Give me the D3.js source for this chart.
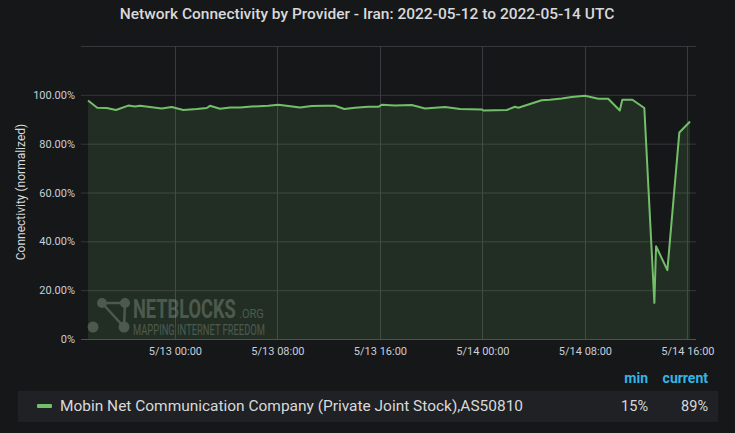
<!DOCTYPE html>
<html>
<head>
<meta charset="utf-8">
<script src="https://cdn.jsdelivr.net/npm/d3@7"></script>
<style>
  body { margin: 0; background: #161719; }
  svg { display: block; font-family: Roboto, "Noto Sans", sans-serif; }
</style>
</head>
<body>
<script>
// chart data
var times = [
  "2022-05-12T17:13", "2022-05-12T17:56", "2022-05-12T18:40", "2022-05-12T19:24",
  "2022-05-12T20:21", "2022-05-12T20:53", "2022-05-12T21:16", "2022-05-12T22:03",
  "2022-05-12T22:58", "2022-05-12T23:45", "2022-05-13T00:39", "2022-05-13T01:42",
  "2022-05-13T02:29", "2022-05-13T02:44", "2022-05-13T03:31", "2022-05-13T04:18",
  "2022-05-13T05:05", "2022-05-13T05:59", "2022-05-13T07:17", "2022-05-13T08:04",
  "2022-05-13T08:51", "2022-05-13T09:46", "2022-05-13T10:40", "2022-05-13T11:43",
  "2022-05-13T12:29", "2022-05-13T13:13", "2022-05-13T14:03", "2022-05-13T15:05",
  "2022-05-13T15:52", "2022-05-13T16:08", "2022-05-13T17:10", "2022-05-13T18:29",
  "2022-05-13T19:31", "2022-05-13T21:05", "2022-05-13T22:15", "2022-05-13T23:56",
  "2022-05-14T00:04", "2022-05-14T01:54", "2022-05-14T02:32", "2022-05-14T02:48",
  "2022-05-14T04:37", "2022-05-14T05:16", "2022-05-14T06:11", "2022-05-14T06:58",
  "2022-05-14T08:00", "2022-05-14T09:03", "2022-05-14T09:49", "2022-05-14T10:43",
  "2022-05-14T10:55", "2022-05-14T11:42", "2022-05-14T12:38", "2022-05-14T13:25",
  "2022-05-14T13:33", "2022-05-14T14:26", "2022-05-14T15:22", "2022-05-14T16:12"
];
var values = [
  97.7, 94.7, 94.6, 93.8, 95.6, 95.2, 95.5, 95.0,
  94.4, 95.0, 93.8, 94.2, 94.6, 95.5, 94.3, 94.8,
  94.8, 95.2, 95.5, 95.9, 95.4, 94.8, 95.4, 95.5,
  95.5, 94.2, 94.7, 95.1, 95.1, 95.9, 95.6, 95.8,
  94.4, 95.0, 94.2, 94.0, 93.6, 93.8, 95.1, 94.7,
  97.8, 98.0, 98.5, 99.1, 99.6, 98.4, 98.4, 93.6,
  98.0, 98.0, 94.6, 14.8, 38.0, 28.2, 84.6, 89.1
];
var yTicks = [0, 20, 40, 60, 80, 100];
var xTicks = ["2022-05-13T00:00", "2022-05-13T08:00", "2022-05-13T16:00",
              "2022-05-14T00:00", "2022-05-14T08:00", "2022-05-14T16:00"];
var timeRange = ["2022-05-12T16:40", "2022-05-14T16:40"];
var seriesName = "Mobin Net Communication Company (Private Joint Stock),AS50810";
var legendHeaders = ["min", "current"];
var legendValues = ["15%", "89%"];

var width = 735, height = 433;
var parseTime = d3.timeParse("%Y-%m-%dT%H:%M");

var data = times.map(function(t, i){
  return { t: parseTime(t), v: values[i] };
});

var svg = d3.select("body")
    .append("svg")
    .attr("width", width)
    .attr("height", height);

svg.append("rect")
    .attr("width", width)
    .attr("height", height)
    .attr("fill", "#161719");

// title
svg.append("text")
    .attr("x", 367)
    .attr("y", 19)
    .attr("text-anchor", "middle")
    .attr("fill", "#d8d9da")
    .attr("font-size", 15.5)
    .attr("font-weight", 500)
    .text("Network Connectivity by Provider - Iran: 2022-05-12 to 2022-05-14 UTC");

var x = d3.scaleTime()
    .domain(timeRange.map(parseTime))
    .range([81, 696]);

var y = d3.scaleLinear()
    .domain([0, 120])
    .range([339, 46]);

// grid
var grid = svg.append("g");
grid.selectAll(".hgrid")
    .data(yTicks.concat([120]))
    .enter()
    .append("line")
    .attr("x1", 81)
    .attr("x2", 696)
    .attr("y1", function(d){ return y(d) + 0.5; })
    .attr("y2", function(d){ return y(d) + 0.5; })
    .attr("stroke", function(d){ return d === 0 ? "#505152" : "#36373a"; })
    .attr("stroke-width", 1);

grid.selectAll(".vgrid")
    .data(xTicks.map(parseTime))
    .enter()
    .append("line")
    .attr("x1", function(d){ return Math.round(x(d)) + 0.5; })
    .attr("x2", function(d){ return Math.round(x(d)) + 0.5; })
    .attr("y1", 46)
    .attr("y2", 339)
    .attr("stroke", "#3a3b3e")
    .attr("stroke-width", 1);

// area + line
var area = d3.area()
    .x(function(d){ return x(d.t); })
    .y0(y(0))
    .y1(function(d){ return y(d.v); });

var line = d3.line()
    .x(function(d){ return x(d.t); })
    .y(function(d){ return y(d.v); });

svg.append("path")
    .datum(data)
    .attr("d", area)
    .attr("fill", "#73bf69")
    .attr("fill-opacity", 0.14);

// watermark
var wm = svg.append("g")
    .attr("opacity", 0.25)
    .attr("fill", "#c8d8c8");
var nodes = [[102, 303], [125, 303], [93, 327], [124, 327]];
wm.selectAll("line")
    .data([[0, 1], [0, 3], [1, 3]])
    .enter()
    .append("line")
    .attr("x1", function(d){ return nodes[d[0]][0]; })
    .attr("y1", function(d){ return nodes[d[0]][1]; })
    .attr("x2", function(d){ return nodes[d[1]][0]; })
    .attr("y2", function(d){ return nodes[d[1]][1]; })
    .attr("stroke", "#c8d8c8")
    .attr("stroke-width", 2.5);
wm.selectAll("circle")
    .data(nodes)
    .enter()
    .append("circle")
    .attr("cx", function(d){ return d[0]; })
    .attr("cy", function(d){ return d[1]; })
    .attr("r", function(d, i){ return i === 2 || i === 3 ? 5.5 : 5; });
wm.append("text")
    .attr("transform", "translate(133,318) scale(0.76,1.05)")
    .attr("font-size", 24)
    .attr("font-weight", 700)
    .text("NETBLOCKS");
wm.append("text")
    .attr("transform", "translate(239,318) scale(0.85,1)")
    .attr("font-size", 13)
    .text(".ORG");
wm.append("text")
    .attr("transform", "translate(133,335) scale(0.72,1.1)")
    .attr("font-size", 13)
    .text("MAPPING INTERNET FREEDOM");

svg.append("path")
    .datum(data)
    .attr("d", line)
    .attr("fill", "none")
    .attr("stroke", "#73bf69")
    .attr("stroke-width", 2)
    .attr("stroke-linejoin", "round");

// axes
var yAxis = d3.axisLeft(y)
    .tickValues(yTicks)
    .tickSize(0)
    .tickPadding(6)
    .tickFormat(function(d){ return d === 0 ? "0%" : d.toFixed(2) + "%"; });

var xAxis = d3.axisBottom(x)
    .tickValues(xTicks.map(parseTime))
    .tickSize(0)
    .tickPadding(8)
    .tickFormat(d3.timeFormat("%-m/%d %H:%M"));

svg.append("g")
    .attr("transform", "translate(81,0)")
    .call(yAxis)
    .call(function(g){ g.select(".domain").remove(); })
    .selectAll("text")
    .attr("fill", "#c7d0d9")
    .attr("font-size", 11)
    .attr("font-family", "Roboto, sans-serif");

svg.append("g")
    .attr("transform", "translate(0,339)")
    .call(xAxis)
    .call(function(g){ g.select(".domain").remove(); })
    .selectAll("text")
    .attr("fill", "#c7d0d9")
    .attr("font-size", 11)
    .attr("font-family", "Roboto, sans-serif");

svg.append("text")
    .attr("transform", "translate(25,192) rotate(-90)")
    .attr("text-anchor", "middle")
    .attr("fill", "#d8d9da")
    .attr("font-size", 12)
    .text("Connectivity (normalized)");

// legend
var headerX = [648, 708];
svg.selectAll(".lhead")
    .data(legendHeaders)
    .enter()
    .append("text")
    .attr("x", function(d, i){ return headerX[i]; })
    .attr("y", 383)
    .attr("text-anchor", "end")
    .attr("fill", "#33b5e5")
    .attr("font-size", 14)
    .attr("font-weight", 700)
    .text(function(d){ return d; });

svg.append("rect")
    .attr("x", 18)
    .attr("y", 391)
    .attr("width", 700)
    .attr("height", 31)
    .attr("fill", "#202124");

svg.append("rect")
    .attr("x", 37)
    .attr("y", 404)
    .attr("width", 15)
    .attr("height", 4)
    .attr("rx", 1)
    .attr("fill", "#73bf69");

svg.append("text")
    .attr("x", 60)
    .attr("y", 411)
    .attr("fill", "#d8d9da")
    .attr("font-size", 15)
    .attr("textLength", 463)
    .attr("lengthAdjust", "spacingAndGlyphs")
    .text(seriesName);

svg.selectAll(".lval")
    .data(legendValues)
    .enter()
    .append("text")
    .attr("x", function(d, i){ return headerX[i]; })
    .attr("y", 411)
    .attr("text-anchor", "end")
    .attr("fill", "#d8d9da")
    .attr("font-size", 14.5)
    .text(function(d){ return d; });
</script>
</body>
</html>
